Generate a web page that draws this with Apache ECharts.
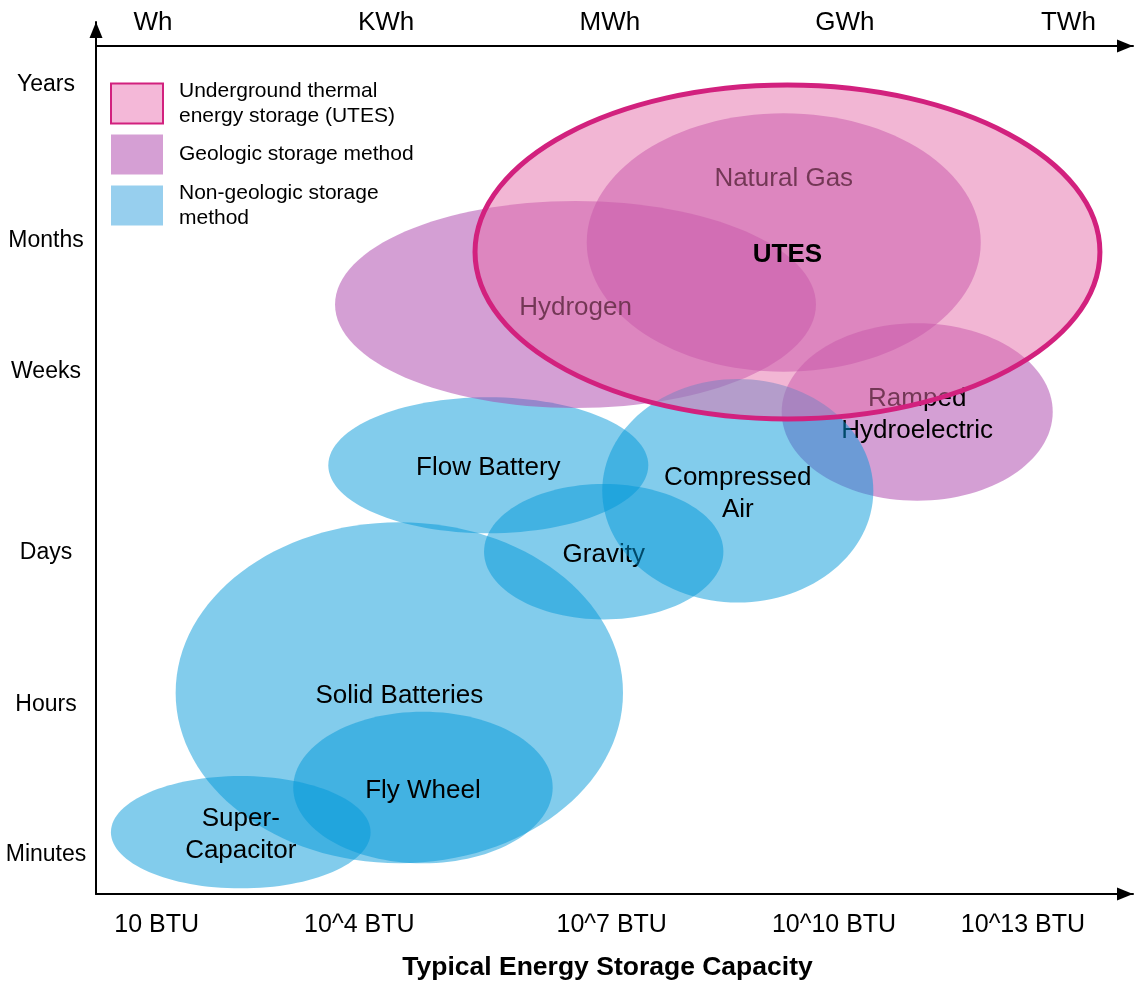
<!DOCTYPE html>
<html>
<head>
<meta charset="utf-8">
<title>Typical Energy Storage Capacity</title>
<script src="https://cdn.jsdelivr.net/npm/echarts@6/dist/echarts.min.js"></script>
<style>
  html, body { margin: 0; padding: 0; background: #fff; }
  #chart { width: 1135px; height: 982px; }
</style>
</head>
<body>
<div id="chart"></div>
<script>
// both axes run 0..100 across the plot area; ticks sit where the diagram puts them
const capacityTicks = [5.85, 25.39, 49.73, 71.17, 89.39]
const capacityLabels = ['10 BTU', '10^4 BTU', '10^7 BTU', '10^10 BTU', '10^13 BTU']
const energyTicks = [5.5, 27.97, 49.55, 72.21, 93.77]
const energyLabels = ['Wh', 'KWh', 'MWh', 'GWh', 'TWh']
const durationTicks = [4.47, 21.67, 39.11, 59.86, 74.89, 92.83]
const durationLabels = ['Minutes', 'Hours', 'Days', 'Weeks', 'Months', 'Years']

// [label, centre x, centre y, half width, half height, label y (optional)]
const nonGeologicLow = [
  ['Solid Batteries', 29.25, 23.07, 21.57, 19.55],
  ['Super-\nCapacitor', 13.96, 7.09, 12.52, 6.44],
  ['Fly Wheel', 31.53, 12.21, 12.51, 8.69],
  ['Flow Battery', 37.83, 49.16, 15.43, 7.80]
]
const geologic = [
  ['Natural Gas', 66.32, 74.71, 19.0, 14.82, 82.34],
  ['Hydrogen', 46.24, 67.60, 23.19, 11.87],
  ['Ramped\nHydroelectric', 79.19, 55.28, 13.07, 10.17]
]
const nonGeologicHigh = [
  ['Gravity', 48.96, 39.25, 11.54, 7.76],
  ['Compressed\nAir', 61.89, 46.24, 13.07, 12.82]
]
const utes = [
  ['UTES', 66.68, 73.62, 30.13, 19.15]
]

const UTES_NAME = 'Underground thermal energy storage (UTES)'
const GEO_NAME = 'Geologic storage method'
const NONGEO_NAME = 'Non-geologic storage method'
const legendText = {
  [UTES_NAME]: 'Underground thermal\nenergy storage (UTES)',
  [GEO_NAME]: 'Geologic storage method',
  [NONGEO_NAME]: 'Non-geologic storage\nmethod'
}

const FONT = '"Liberation Sans", Arial, Helvetica, sans-serif'

const ellipseSeries = (name, rows, fill, opts = {}) => ({
  name,
  type: 'custom',
  coordinateSystem: 'cartesian2d',
  silent: true,
  itemStyle: { color: fill },
  encode: { x: 0, y: 1 },
  data: rows.map(r => [r[1], r[2], r[3], r[4], r[5] != null ? r[5] : r[2]]),
  renderItem: (params, api) => {
    const c = api.coord([api.value(0), api.value(1)])
    const r = api.size([api.value(2), api.value(3)])
    const ly = api.coord([api.value(0), api.value(4)])[1]
    return {
      type: 'group',
      children: [
        {
          type: 'ellipse',
          shape: { cx: c[0], cy: c[1], rx: r[0], ry: r[1] },
          style: {
            fill,
            stroke: opts.stroke || null,
            lineWidth: opts.lineWidth || 0
          }
        },
        {
          type: 'text',
          x: c[0],
          y: ly + 3,
          style: {
            text: rows[params.dataIndex][0],
            fill: '#000',
            fontSize: 26,
            fontFamily: FONT,
            fontWeight: opts.bold ? 'bold' : 'normal',
            align: 'center',
            verticalAlign: 'middle',
            lineHeight: 32
          }
        }
      ]
    }
  }
})

const pick = (ticks, labels) => v => {
  const i = ticks.indexOf(v)
  return i < 0 ? '' : labels[i]
}

const arrowLine = {
  show: true,
  symbol: ['none', 'triangle'],
  symbolSize: [13, 16],
  symbolOffset: [0, -8],
  lineStyle: { color: '#000', width: 2 }
}

const chart = echarts.init(document.getElementById('chart'))

const option = {
  animation: false,
  backgroundColor: '#fff',
  grid: {
    left: 96,
    right: 2,
    top: 22,
    bottom: 88,
    containLabel: false,
    outerBoundsMode: 'none'
  },
  legend: {
    orient: 'vertical',
    left: 110,
    top: 78.5,
    padding: 0,
    itemWidth: 52,
    itemHeight: 40,
    itemGap: 6,
    icon: 'rect',
    selectedMode: false,
    formatter: n => legendText[n],
    textStyle: {
      fontSize: 21,
      lineHeight: 25,
      color: '#000',
      fontFamily: FONT,
      padding: [0, 0, 0, 11]
    },
    data: [
      { name: UTES_NAME, itemStyle: { color: '#F4B8D8', borderColor: '#D2217E', borderWidth: 2 } },
      { name: GEO_NAME, itemStyle: { color: '#D59FD4' } },
      { name: NONGEO_NAME, itemStyle: { color: '#97CFEE' } }
    ]
  },
  xAxis: [
    {
      type: 'value',
      position: 'bottom',
      min: 0,
      max: 100,
      axisLine: arrowLine,
      axisTick: { show: false },
      splitLine: { show: false },
      axisLabel: {
        customValues: capacityTicks,
        formatter: pick(capacityTicks, capacityLabels),
        fontSize: 25,
        lineHeight: 25,
        fontFamily: FONT,
        color: '#000',
        margin: 19
      },
      name: 'Typical Energy Storage Capacity',
      nameLocation: 'middle',
      nameGap: 61,
      nameTextStyle: {
        fontSize: 26.5,
        lineHeight: 26,
        fontWeight: 'bold',
        fontFamily: FONT,
        color: '#000',
        padding: [0, 14, 0, 0]
      }
    },
    {
      type: 'value',
      position: 'top',
      offset: -24,
      min: 0,
      max: 100,
      axisLine: arrowLine,
      axisTick: { show: false },
      splitLine: { show: false },
      axisLabel: {
        customValues: energyTicks,
        formatter: pick(energyTicks, energyLabels),
        fontSize: 26,
        lineHeight: 26,
        fontFamily: FONT,
        color: '#000',
        margin: 10
      }
    }
  ],
  yAxis: {
    type: 'value',
    min: 0,
    max: 100,
    axisLine: arrowLine,
    axisTick: { show: false },
    splitLine: { show: false },
    axisLabel: {
      customValues: durationTicks,
      formatter: pick(durationTicks, durationLabels),
      fontSize: 23,
      fontFamily: FONT,
      color: '#000',
      align: 'center',
      padding: [4, 0, 0, 0],
      margin: 50
    }
  },
  series: [
    ellipseSeries(NONGEO_NAME, nonGeologicLow, 'rgba(0, 151, 216, 0.49)'),
    ellipseSeries(GEO_NAME, geologic, 'rgba(169, 63, 169, 0.5)'),
    ellipseSeries(NONGEO_NAME, nonGeologicHigh, 'rgba(0, 151, 216, 0.49)'),
    ellipseSeries(UTES_NAME, utes, 'rgba(230, 110, 170, 0.5)', {
      stroke: '#D2217E',
      lineWidth: 5,
      bold: true
    })
  ]
}

chart.setOption(option)
</script>
</body>
</html>
